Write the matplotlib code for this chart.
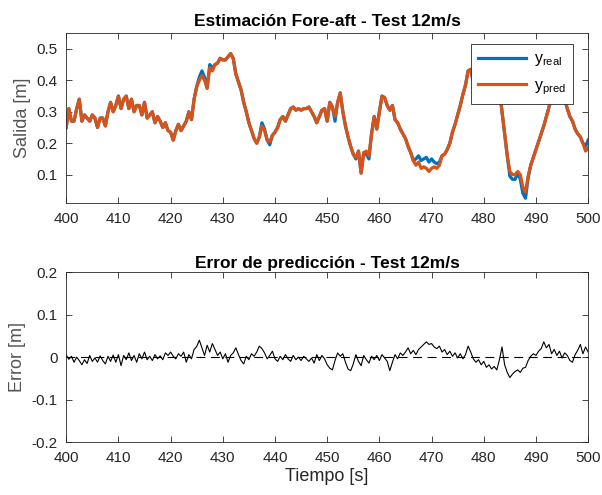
import numpy as np
import matplotlib
matplotlib.use('Agg')
import matplotlib.pyplot as plt

plt.rcParams['font.family'] = ['Liberation Sans', 'DejaVu Sans']
plt.rcParams['mathtext.fontset'] = 'custom'
plt.rcParams['mathtext.rm'] = 'Liberation Sans'

# Tiempo (s), paso de 0.5 s
t = np.arange(400.0, 500.01, 0.5)

# Salida real
y_real = [
    0.25, 0.31, 0.27, 0.27, 0.31, 0.34, 0.27, 0.29, 0.28, 0.27,
    0.29, 0.28, 0.25, 0.28, 0.28, 0.255, 0.30, 0.33, 0.30, 0.32,
    0.35, 0.31, 0.34, 0.35, 0.31, 0.34, 0.30, 0.32, 0.32, 0.29,
    0.33, 0.28, 0.29, 0.30, 0.265, 0.285, 0.27, 0.25, 0.265, 0.24,
    0.235, 0.21, 0.24, 0.26, 0.24, 0.255, 0.27, 0.30, 0.275, 0.34,
    0.38, 0.41, 0.43, 0.41, 0.375, 0.45, 0.44, 0.45, 0.455, 0.47,
    0.465, 0.465, 0.475, 0.485, 0.47, 0.42, 0.395, 0.37, 0.33, 0.30,
    0.265, 0.24, 0.215, 0.20, 0.22, 0.265, 0.245, 0.21, 0.195, 0.225,
    0.235, 0.25, 0.275, 0.285, 0.27, 0.29, 0.31, 0.315, 0.305, 0.31,
    0.305, 0.31, 0.31, 0.315, 0.30, 0.285, 0.265, 0.285, 0.305, 0.31,
    0.27, 0.33, 0.315, 0.27, 0.33, 0.36, 0.30, 0.255, 0.22, 0.19,
    0.165, 0.15, 0.175, 0.105, 0.17, 0.165, 0.15, 0.23, 0.285, 0.245,
    0.30, 0.35, 0.345, 0.32, 0.305, 0.32, 0.275, 0.265, 0.245, 0.23,
    0.215, 0.19, 0.17, 0.145, 0.15, 0.16, 0.145, 0.15, 0.155, 0.14,
    0.15, 0.14, 0.135, 0.14, 0.16, 0.165, 0.18, 0.20, 0.235, 0.26,
    0.29, 0.32, 0.355, 0.385, 0.43, 0.435, 0.39, 0.375, 0.41, 0.435,
    0.42, 0.44, 0.45, 0.46, 0.45, 0.42, 0.37, 0.30, 0.23, 0.16,
    0.095, 0.085, 0.085, 0.105, 0.085, 0.04, 0.025, 0.09, 0.13, 0.155,
    0.18, 0.205, 0.23, 0.255, 0.285, 0.315, 0.345, 0.38, 0.41, 0.40,
    0.37, 0.34, 0.31, 0.285, 0.27, 0.245, 0.23, 0.22, 0.20, 0.19,
    0.21,
]

# Salida predicha
y_pred = [
    0.25, 0.31, 0.27, 0.27, 0.31, 0.34, 0.27, 0.29, 0.28, 0.27,
    0.29, 0.28, 0.25, 0.28, 0.28, 0.255, 0.30, 0.33, 0.30, 0.32,
    0.35, 0.31, 0.34, 0.35, 0.31, 0.34, 0.30, 0.32, 0.32, 0.29,
    0.33, 0.28, 0.29, 0.30, 0.265, 0.285, 0.27, 0.25, 0.265, 0.24,
    0.235, 0.21, 0.24, 0.26, 0.24, 0.255, 0.27, 0.30, 0.275, 0.34,
    0.38, 0.40, 0.415, 0.40, 0.375, 0.44, 0.43, 0.45, 0.455, 0.47,
    0.465, 0.465, 0.475, 0.485, 0.47, 0.42, 0.395, 0.37, 0.33, 0.30,
    0.265, 0.24, 0.215, 0.20, 0.22, 0.255, 0.24, 0.21, 0.205, 0.225,
    0.235, 0.25, 0.275, 0.285, 0.27, 0.29, 0.31, 0.315, 0.305, 0.31,
    0.305, 0.31, 0.31, 0.315, 0.30, 0.285, 0.265, 0.285, 0.305, 0.31,
    0.27, 0.33, 0.315, 0.285, 0.33, 0.36, 0.30, 0.255, 0.22, 0.19,
    0.165, 0.155, 0.175, 0.105, 0.17, 0.175, 0.16, 0.23, 0.285, 0.245,
    0.30, 0.35, 0.345, 0.32, 0.305, 0.32, 0.275, 0.265, 0.245, 0.23,
    0.215, 0.19, 0.17, 0.145, 0.13, 0.14, 0.12, 0.125, 0.12, 0.11,
    0.12, 0.125, 0.12, 0.13, 0.16, 0.165, 0.18, 0.20, 0.235, 0.26,
    0.29, 0.32, 0.355, 0.385, 0.43, 0.435, 0.40, 0.385, 0.41, 0.435,
    0.42, 0.44, 0.45, 0.46, 0.45, 0.42, 0.37, 0.30, 0.23, 0.16,
    0.11, 0.10, 0.10, 0.11, 0.10, 0.06, 0.045, 0.095, 0.13, 0.155,
    0.18, 0.205, 0.23, 0.255, 0.285, 0.315, 0.345, 0.38, 0.41, 0.40,
    0.37, 0.34, 0.31, 0.285, 0.27, 0.245, 0.23, 0.22, 0.20, 0.175,
    0.185,
]

# Error de prediccion (y_real - y_pred)
error = [
    0.005, -0.005, 0.002, -0.012, 0.000, -0.008, -0.018, -0.006, -0.015, 0.004,
    -0.010, -0.002, -0.012, 0.003, -0.008, -0.016, 0.002, -0.010, 0.005, -0.012,
    0.006, -0.020, 0.004, -0.006, 0.010, -0.008, 0.004, -0.012, 0.008, -0.004,
    0.012, -0.006, 0.002, -0.008, 0.006, -0.004, 0.003, -0.006, 0.010, 0.004,
    0.012, 0.002, -0.004, 0.008, 0.002, 0.012, -0.012, 0.006, -0.004, 0.018,
    0.025, 0.040, 0.022, 0.004, 0.028, 0.012, 0.032, 0.018, 0.004, 0.012,
    -0.004, 0.008, -0.012, 0.004, 0.010, 0.022, 0.006, -0.008, -0.016, 0.002,
    -0.006, 0.008, 0.002, 0.012, 0.026, 0.020, 0.010, -0.004, 0.004, 0.014,
    -0.004, -0.010, 0.002, -0.006, 0.006, -0.004, -0.010, 0.004, -0.006, 0.000,
    -0.008, 0.002, -0.004, -0.010, -0.002, -0.014, 0.006, -0.008, 0.004, -0.004,
    -0.018, -0.026, -0.030, -0.008, 0.010, 0.002, 0.008, -0.012, -0.028, -0.032,
    -0.016, 0.006, -0.010, -0.020, 0.004, -0.006, -0.014, 0.002, -0.006, 0.004,
    -0.008, 0.006, -0.002, -0.010, -0.032, -0.012, 0.006, -0.004, 0.010, 0.004,
    0.012, 0.022, 0.008, 0.016, 0.006, 0.018, 0.024, 0.030, 0.036, 0.030,
    0.032, 0.024, 0.020, 0.026, 0.012, 0.018, 0.006, 0.014, 0.002, 0.010,
    -0.002, 0.008, -0.004, 0.006, 0.026, 0.012, -0.004, -0.012, -0.006, -0.018,
    -0.010, -0.024, -0.018, -0.028, -0.022, -0.030, -0.006, 0.024, -0.018, -0.036,
    -0.048, -0.040, -0.034, -0.030, -0.036, -0.026, -0.024, -0.008, 0.002, 0.008,
    0.004, 0.014, 0.020, 0.036, 0.022, 0.030, 0.008, 0.018, 0.004, 0.014,
    -0.002, 0.010, 0.004, -0.008, -0.012, 0.006, 0.016, 0.030, 0.008, 0.024,
    0.012,
]

xticks = np.arange(400, 501, 10)

fig = plt.figure(figsize=(6.02, 4.95), dpi=100)
ax1 = fig.add_axes([0.110, 0.590, 0.867, 0.343])
ax2 = fig.add_axes([0.110, 0.107, 0.867, 0.343])

ax1.plot(t, y_real, color='#0072BD', lw=2.3, label=r'$\mathrm{y_{real}}$')
ax1.plot(t, y_pred, color='#D95319', lw=2.3, label=r'$\mathrm{y_{pred}}$')
ax1.set_xlim(400, 500)
ax1.set_ylim(0.01, 0.55)
ax1.set_yticks([0.1, 0.2, 0.3, 0.4, 0.5])
ax1.set_title('Estimación Fore-aft - Test 12m/s', fontsize=12.5, fontweight='bold', pad=5)
ax1.set_ylabel('Salida [m]', fontsize=13, color='#555555', labelpad=4)
leg = ax1.legend(loc='upper right', bbox_to_anchor=(0.971, 0.935), borderaxespad=0,
                 fontsize=11.5, handlelength=3.0, fancybox=False, framealpha=1,
                 edgecolor='#262626', borderpad=0.45, labelspacing=0.6, handletextpad=0.5)
leg.get_frame().set_linewidth(0.6)

ax2.plot(t, error, color='black', lw=0.8)
ax2.axhline(0, color='black', lw=0.8, ls=(0, (8, 5)))
ax2.set_xlim(400, 500)
ax2.set_ylim(-0.2, 0.2)
ax2.set_yticks([-0.2, -0.1, 0, 0.1, 0.2])
ax2.set_yticklabels(['-0.2', '-0.1', '0', '0.1', '0.2'])
ax2.set_title('Error de predicción - Test 12m/s', fontsize=12.5, fontweight='bold', pad=3)
ax2.set_ylabel('Error [m]', fontsize=13, color='#555555', labelpad=4)
ax2.set_xlabel('Tiempo [s]', fontsize=13, color='#262626', labelpad=2)

for ax in (ax1, ax2):
    ax.set_xticks(xticks)
    ax.tick_params(direction='in', top=True, right=True, length=4, width=0.6,
                   labelsize=11, colors='#262626', pad=6)
    ax.tick_params(axis='x', pad=6.5)
    for s in ax.spines.values():
        s.set_linewidth(0.6)
        s.set_color('#262626')

fig.savefig('out.png', dpi=100)
